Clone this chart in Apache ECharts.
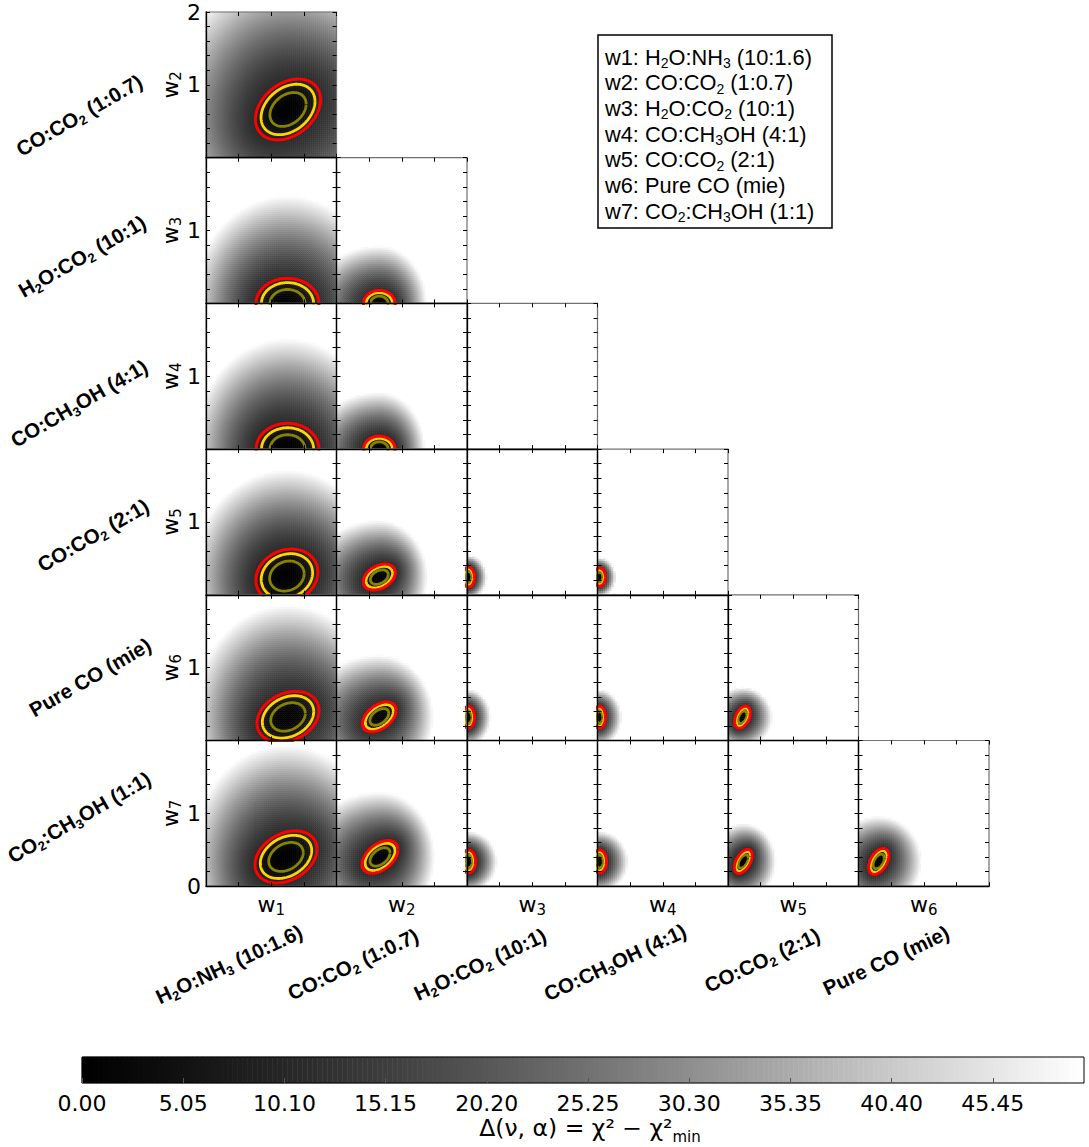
<!DOCTYPE html>
<html>
<head>
<meta charset="utf-8">
<title>Weight correlation corner plot</title>
<script src="https://cdn.jsdelivr.net/npm/echarts@6.0.0/dist/echarts.min.js"></script>
<style>
html,body{margin:0;padding:0;background:#ffffff;}
#chart{width:1089px;height:1147px;}
</style>
</head>
<body>
<div id="chart"></div>
<script>
// ======================= DATA =======================
const WEIGHT_NAMES = ['w1', 'w2', 'w3', 'w4', 'w5', 'w6', 'w7'];
const WEIGHT_SUBS = ['1', '2', '3', '4', '5', '6', '7'];
const MIXTURES = [
  'H{s|2}O:NH{s|3} (10:1.6)',
  'CO:CO{s|2} (1:0.7)',
  'H{s|2}O:CO{s|2} (10:1)',
  'CO:CH{s|3}OH (4:1)',
  'CO:CO{s|2} (2:1)',
  'Pure CO (mie)',
  'CO{s|2}:CH{s|3}OH (1:1)'
];

// one entry per panel: x weight index, y weight index
const PANEL_X_WEIGHT = [0, 0, 1, 0, 1, 2, 0, 1, 2, 3, 0, 1, 2, 3, 4, 0, 1, 2, 3, 4, 5];
const PANEL_Y_WEIGHT = [1, 2, 2, 3, 3, 3, 4, 4, 4, 4, 5, 5, 5, 5, 5, 6, 6, 6, 6, 6, 6];
// position of the chi2 minimum (weight units); null = no minimum drawn
const BEST_X = [1.257, 1.249, 0.656, 1.250, 0.656, null, 1.240, 0.656, 0.023, 0.030, 1.257, 0.656, 0.023, 0.030, 0.222, 1.226, 0.667, 0.023, 0.030, 0.234, 0.310];
const BEST_Y = [0.662, 0.000, 0.000, 0.000, 0.000, null, 0.257, 0.243, 0.243, 0.243, 0.324, 0.324, 0.320, 0.320, 0.320, 0.402, 0.402, 0.340, 0.340, 0.340, 0.340];
// widths of the quadratic chi2 well near the minimum and its correlation
const SIGMA_X = [0.148, 0.143, 0.072, 0.143, 0.072, null, 0.141, 0.073, 0.027, 0.027, 0.141, 0.077, 0.027, 0.027, 0.036, 0.141, 0.082, 0.032, 0.032, 0.041, 0.046];
const SIGMA_Y = [0.124, 0.102, 0.053, 0.105, 0.053, null, 0.110, 0.053, 0.041, 0.037, 0.104, 0.061, 0.045, 0.045, 0.045, 0.106, 0.067, 0.047, 0.047, 0.049, 0.053];
const CORR = [0.32, 0.00, 0.00, 0.00, 0.00, null, 0.15, 0.35, 0.00, 0.00, 0.25, 0.45, 0.00, 0.00, 0.40, 0.30, 0.45, 0.00, 0.00, 0.50, 0.45];
// distance from the minimum at which delta chi2 reaches the top of the scale
const HALO_LEFT  = [1.85, 1.46, 1.07, 1.46, 1.07, null, 1.46, 1.07, 0.30, 0.30, 1.46, 1.15, 0.35, 0.35, 0.46, 1.46, 1.20, 0.44, 0.44, 0.50, 0.72];
const HALO_RIGHT = [1.92, 1.46, 0.73, 1.46, 0.70, null, 1.46, 0.74, 0.28, 0.25, 1.46, 0.83, 0.34, 0.34, 0.46, 1.46, 0.84, 0.44, 0.44, 0.50, 0.66];
const HALO_UP    = [1.90, 1.48, 0.79, 1.52, 0.78, null, 1.46, 0.78, 0.30, 0.27, 1.54, 0.85, 0.38, 0.38, 0.41, 1.54, 0.89, 0.41, 0.41, 0.52, 0.62];

const CONTOUR_LEVELS = [3.53, 7.81, 11.34];
const DELTA_MAX = 50;
const COLORBAR_TICK_STEP = 5.05;
const AXIS_MIN = 0, AXIS_MAX = 2;
const X_TICK_STEP = 0.5, Y_TICK_STEP = 0.2;
const HALO_EXPONENT = 1.3;

// ======================= STYLE / LAYOUT =======================
const L0 = 206, T0 = 12, CW = 130.5, CH = 145.7;
const NX = 65, NY = 73;            // heatmap sampling per panel
const CB_N = 200;                  // colour bar cells
const GRAY_RAMP = ['#000000', '#111111', '#262626', '#3d3d3d', '#565656', '#707070', '#8c8c8c', '#a9a9a9', '#c7c7c7', '#e3e3e3', '#ffffff'];
const LEVEL_COLORS = ['#858300', '#ffd400', '#ff0000'];
const LEVEL_WIDTHS = [2.8, 2.8, 3.0];
const TICK_FONT = 'DejaVu Sans';
const TICK_SIZE = 22;
const LABEL_FONT = 'Liberation Sans';
const ROW_LABEL_CENTERS = [[79, 115], [82, 256], [79, 403], [93, 535], [90, 677], [79, 817]];
const COL_LABEL_CENTERS = [[229, 964], [353, 964], [480, 964], [615, 962], [762, 960], [886, 960]];
const ROW_LABEL_ROTATION = 30 * Math.PI / 180;
const COL_LABEL_ROTATION = 25 * Math.PI / 180;
const LABEL_SIZE = 20.5;
const LEGEND_SIZE = 21.8;

// ======================= MODEL =======================
function deltaChi2(k, x, y) {
  const cx = BEST_X[k], cy = BEST_Y[k], sx = SIGMA_X[k], sy = SIGMA_Y[k], rho = CORR[k];
  const L3 = CONTOUR_LEVELS[CONTOUR_LEVELS.length - 1];
  const dx = x - cx, dy = y - cy;
  const a = dx / sx, b = dy / sy;
  const q = (a * a - 2 * rho * a * b + b * b) / (1 - rho * rho);
  if (q <= L3) return q;
  const hx = dx < 0 ? HALO_LEFT[k] : HALO_RIGHT[k];
  const hy = HALO_UP[k];
  const h = DELTA_MAX * ((dx / hx) * (dx / hx) + (dy / hy) * (dy / hy));
  const rin = Math.sqrt(q / L3);
  const rout = Math.sqrt(h / DELTA_MAX);
  if (rout >= rin) return DELTA_MAX;
  const u = (1 - 1 / rin) / (1 / rout - 1 / rin);
  if (u >= 1) return DELTA_MAX;
  return L3 + (DELTA_MAX - L3) * Math.pow(u, HALO_EXPONENT);
}

function contour(k, level) {
  const cx = BEST_X[k], cy = BEST_Y[k], sx = SIGMA_X[k], sy = SIGMA_Y[k], rho = CORR[k];
  const s = Math.sqrt(1 - rho * rho), r = Math.sqrt(level);
  const pts = [];
  for (let i = 0; i <= 160; i++) {
    const t = i / 160 * 2 * Math.PI;
    const a = r * Math.cos(t);
    const b = r * (rho * Math.cos(t) + s * Math.sin(t));
    pts.push([cx + a * sx, cy + b * sy]);
  }
  return pts;
}

// ======================= OPTION =======================
const grids = [], xAxes = [], yAxes = [], series = [], heatSeries = [];
const catX = Array.from({length: NX}, (_, i) => String(i));
const catY = Array.from({length: NY}, (_, i) => String(i));
const subRich = (size) => ({
  s: {fontSize: size, lineHeight: size + 1, verticalAlign: 'bottom', fontFamily: TICK_FONT, color: '#000'}
});

PANEL_X_WEIGHT.forEach((c, k) => {
  const r = PANEL_Y_WEIGHT[k] - 1;
  const rect = {left: L0 + c * CW, top: T0 + r * CH, width: CW, height: CH};
  const gCat = grids.length;
  grids.push(Object.assign({show: false, containLabel: false}, rect));
  const gVal = grids.length;
  grids.push(Object.assign({show: true, borderColor: '#707070', borderWidth: 1.2, backgroundColor: 'transparent', z: 3, containLabel: false}, rect));

  const xc = xAxes.length;
  xAxes.push({type: 'category', gridIndex: gCat, data: catX, show: false, boundaryGap: true});
  const yc = yAxes.length;
  yAxes.push({type: 'category', gridIndex: gCat, data: catY, show: false, boundaryGap: true});

  const isBottom = r === 5, isLeft = c === 0;
  const xb = xAxes.length;
  xAxes.push({
    type: 'value', gridIndex: gVal, position: 'bottom', min: AXIS_MIN, max: AXIS_MAX, interval: X_TICK_STEP, z: 3,
    axisLine: {show: true, onZero: false, lineStyle: {color: '#000', width: 1.3}},
    axisTick: {show: true, inside: true, length: 4, lineStyle: {color: '#000', width: 1}},
    axisLabel: {show: false}, splitLine: {show: false},
    name: isBottom ? WEIGHT_NAMES[c].charAt(0) + '{s|' + WEIGHT_SUBS[c] + '}' : '',
    nameLocation: 'middle', nameGap: 5,
    nameTextStyle: {fontFamily: TICK_FONT, fontSize: TICK_SIZE, color: '#000', lineHeight: 26, rich: subRich(15)}
  });
  xAxes.push({
    type: 'value', gridIndex: gVal, position: 'top', min: AXIS_MIN, max: AXIS_MAX, interval: X_TICK_STEP, z: 3,
    axisLine: {show: false, onZero: false},
    axisTick: {show: true, inside: true, length: 4, lineStyle: {color: '#000', width: 1}},
    axisLabel: {show: false}, splitLine: {show: false}
  });
  const yl = yAxes.length;
  const row = r;
  yAxes.push({
    type: 'value', gridIndex: gVal, position: 'left', min: AXIS_MIN, max: AXIS_MAX, interval: Y_TICK_STEP, z: 3,
    axisLine: {show: true, onZero: false, lineStyle: {color: '#000', width: 1.3}},
    axisTick: {show: true, inside: true, length: 4, lineStyle: {color: '#000', width: 1}},
    axisLabel: {
      show: isLeft, margin: 5, fontFamily: TICK_FONT, fontSize: TICK_SIZE, color: '#000',
      formatter: function (v) {
        const t = Math.round(v * 10) / 10;
        if (t === 1) return '1';
        if (t === 2 && row === 0) return '2';
        if (t === 0 && row === 5) return '0';
        return '';
      }
    },
    splitLine: {show: false},
    name: isLeft ? WEIGHT_NAMES[r + 1].charAt(0) + '{s|' + WEIGHT_SUBS[r + 1] + '}' : '',
    nameLocation: 'middle', nameGap: 21, nameRotate: 90,
    nameTextStyle: {fontFamily: TICK_FONT, fontSize: TICK_SIZE, color: '#000', lineHeight: 26, rich: subRich(15)}
  });
  yAxes.push({
    type: 'value', gridIndex: gVal, position: 'right', min: AXIS_MIN, max: AXIS_MAX, interval: Y_TICK_STEP, z: 3,
    axisLine: {show: false, onZero: false},
    axisTick: {show: true, inside: true, length: 4, lineStyle: {color: '#000', width: 1}},
    axisLabel: {show: false}, splitLine: {show: false}
  });

  if (BEST_X[k] === null) return;

  const data = [];
  for (let i = 0; i < NX; i++) {
    const x = AXIS_MIN + (i + 0.5) * (AXIS_MAX - AXIS_MIN) / NX;
    for (let j = 0; j < NY; j++) {
      const y = AXIS_MIN + (j + 0.5) * (AXIS_MAX - AXIS_MIN) / NY;
      const v = deltaChi2(k, x, y);
      if (v < DELTA_MAX) data.push([i, j, +v.toFixed(3)]);
    }
  }
  heatSeries.push(series.length);
  series.push({
    type: 'heatmap', xAxisIndex: xc, yAxisIndex: yc, data: data, z: 1,
    progressive: 0, silent: true, animation: false,
    itemStyle: {borderWidth: 0}, emphasis: {disabled: true}
  });

  CONTOUR_LEVELS.forEach((lv, li) => {
    series.push({
      type: 'line', xAxisIndex: xb, yAxisIndex: yl, data: contour(k, lv), z: 2,
      showSymbol: false, symbol: 'none', clip: true, silent: true, animation: false,
      lineStyle: {color: LEVEL_COLORS[li], width: LEVEL_WIDTHS[li]}
    });
  });
});

// ----- colour bar -----
const CB = {left: 82, top: 1057, width: 1002, height: 26};
const gCbCat = grids.length;
grids.push(Object.assign({show: false}, CB));
const gCbVal = grids.length;
grids.push(Object.assign({show: true, borderColor: '#000', borderWidth: 1, backgroundColor: 'transparent', z: 3}, CB));
const cbx = xAxes.length;
xAxes.push({type: 'category', gridIndex: gCbCat, data: Array.from({length: CB_N}, (_, i) => String(i)), show: false});
const cby = yAxes.length;
yAxes.push({type: 'category', gridIndex: gCbCat, data: ['0'], show: false});
xAxes.push({
  type: 'value', gridIndex: gCbVal, position: 'bottom', min: 0, max: DELTA_MAX, interval: COLORBAR_TICK_STEP, z: 3,
  axisLine: {show: false, onZero: false},
  axisTick: {show: true, inside: true, length: 5, lineStyle: {color: '#555', width: 1}},
  axisLabel: {show: true, showMaxLabel: false, margin: 9, fontFamily: TICK_FONT, fontSize: TICK_SIZE, color: '#000',
    formatter: v => v.toFixed(2)},
  splitLine: {show: false}
});
yAxes.push({type: 'value', gridIndex: gCbVal, min: 0, max: 1, show: false});
const cbData = [];
for (let i = 0; i < CB_N; i++) cbData.push([i, 0, (i + 0.5) * DELTA_MAX / CB_N]);
heatSeries.push(series.length);
series.push({
  type: 'heatmap', xAxisIndex: cbx, yAxisIndex: cby, data: cbData, z: 1,
  progressive: 0, silent: true, animation: false, itemStyle: {borderWidth: 0}, emphasis: {disabled: true}
});

// ----- text graphics -----
const graphics = [];
const boldRich = {s: {fontSize: 13, lineHeight: 13, verticalAlign: 'bottom', fontWeight: 'bold', fontFamily: LABEL_FONT, fill: '#000'}};
MIXTURES.slice(1).forEach((t, i) => {
  graphics.push({
    type: 'text', x: ROW_LABEL_CENTERS[i][0], y: ROW_LABEL_CENTERS[i][1], rotation: ROW_LABEL_ROTATION,
    style: {text: t, rich: boldRich, fontFamily: LABEL_FONT, fontWeight: 'bold', fontSize: LABEL_SIZE, lineHeight: 26,
      fill: '#000', align: 'center', verticalAlign: 'middle'}
  });
});
MIXTURES.slice(0, 6).forEach((t, i) => {
  graphics.push({
    type: 'text', x: COL_LABEL_CENTERS[i][0], y: COL_LABEL_CENTERS[i][1], rotation: COL_LABEL_ROTATION,
    style: {text: t, rich: boldRich, fontFamily: LABEL_FONT, fontWeight: 'bold', fontSize: LABEL_SIZE, lineHeight: 26,
      fill: '#000', align: 'center', verticalAlign: 'middle'}
  });
});
// legend box
graphics.push({
  type: 'rect', shape: {x: 598, y: 35, width: 234, height: 193},
  style: {fill: '#fff', stroke: '#000', lineWidth: 1.5}, z: 10
});
const legRich = {s: {fontSize: 14, lineHeight: 14, verticalAlign: 'bottom', fontFamily: LABEL_FONT, fill: '#000'}};
WEIGHT_NAMES.forEach((w, i) => {
  graphics.push({
    type: 'text', x: 605, y: 57 + i * 25.7, z: 11,
    style: {text: w + ': ' + MIXTURES[i], rich: legRich, fontFamily: LABEL_FONT, fontSize: LEGEND_SIZE, lineHeight: 26,
      fill: '#000', align: 'left', verticalAlign: 'middle'}
  });
});
// colour bar title
graphics.push({
  type: 'text', x: 590, y: 1128,
  style: {
    text: 'Δ(ν, α) = χ² − χ²{s|min}',
    rich: {
      s: {fontSize: 15, lineHeight: 15, verticalAlign: 'bottom', fontFamily: TICK_FONT, fill: '#000'}
    },
    fontFamily: TICK_FONT, fontSize: 23.5, lineHeight: 32, fill: '#000', align: 'center', verticalAlign: 'middle'
  }
});

const option = {
  animation: false,
  backgroundColor: '#ffffff',
  grid: grids,
  xAxis: xAxes,
  yAxis: yAxes,
  visualMap: {
    type: 'continuous', show: false, min: 0, max: DELTA_MAX, seriesIndex: heatSeries,
    inRange: {color: GRAY_RAMP}, outOfRange: {color: '#ffffff'}
  },
  series: series,
  graphic: graphics
};

const chart = echarts.init(document.getElementById('chart'), null, {renderer: 'svg'});
chart.setOption(option);
</script>
</body>
</html>
